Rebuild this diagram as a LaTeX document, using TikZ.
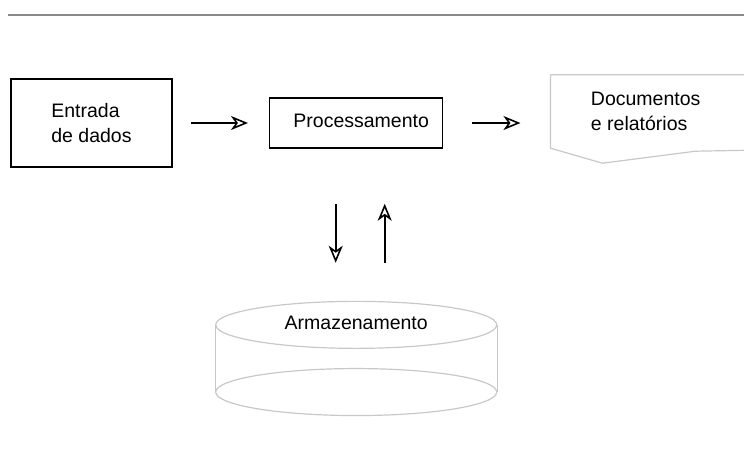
\documentclass[tikz,border=0pt]{standalone}
\usepackage{fontspec}
\setmainfont{Liberation Sans}
\usetikzlibrary{positioning,shapes.geometric,arrows.meta}
\definecolor{rulegray}{HTML}{8A8A8A}
\definecolor{palegray}{HTML}{C8C8C8}

\begin{document}
\begin{tikzpicture}[
  x=1pt, y=-1pt,
  box/.style={
    draw,
    align=left,
    font=\fontsize{19.5}{25}\selectfont,
    inner sep=0pt
  },
  paper/.style={box, draw=none},
  disk/.style={
    ellipse,
    draw=palegray,
    line width=1.2pt,
    minimum width=281pt,
    minimum height=47pt,
    inner sep=0pt,
    font=\fontsize{19.5}{25}\selectfont
  },
  pale/.style={draw=palegray, line width=1.2pt},
  line/.style={draw, line width=2.1pt, -{Stealth[open, length=17pt, width=14pt, inset=5pt, line width=1.6pt]}}
]
\useasboundingbox (0,0) rectangle (744,472);
\draw[rulegray, line width=2pt] (8,15) -- (744,15);

\node[box, line width=1.9pt, minimum width=161pt, minimum height=88pt] (entrada) at (91.5,123) {Entrada\\de dados};
\node[box, line width=1.5pt, minimum width=173pt, minimum height=50pt, right=96pt of entrada] (proc) {\raisebox{5pt}{\hspace*{10pt}Processamento}};
\node[paper, minimum width=190pt, minimum height=73pt, right=107pt of proc, yshift=11.5pt] (docs) {Documentos\\e relatórios};
\node[disk, below=152pt of proc] (store) {\raisebox{4pt}{Armazenamento}};
\node[disk, below=19pt of store] (storebase) {};

% documento
\draw[pale] (docs.north west) -- ++(200,0)
  (docs.north west) -- (docs.south west) -- ++(52,15) -- ++(93,-12) -- ++(55,-1);
% cilindro
\draw[pale] (store.west) -- (storebase.west) (store.east) -- (storebase.east);

\draw[line, shorten <=18pt, shorten >=21pt] (entrada) -- (proc);
\draw[line, shorten <=29pt, shorten >=30pt] (proc.east) -- (proc.east -| docs.west);
\draw[line, shorten <=55pt, shorten >=38pt] ([xshift=-20.5pt]proc.south) -- ([xshift=-20.5pt]store.north);
\draw[line, shorten <=38pt, shorten >=55pt] ([xshift=28.5pt]store.north) -- ([xshift=28.5pt]proc.south);
\end{tikzpicture}
\end{document}
